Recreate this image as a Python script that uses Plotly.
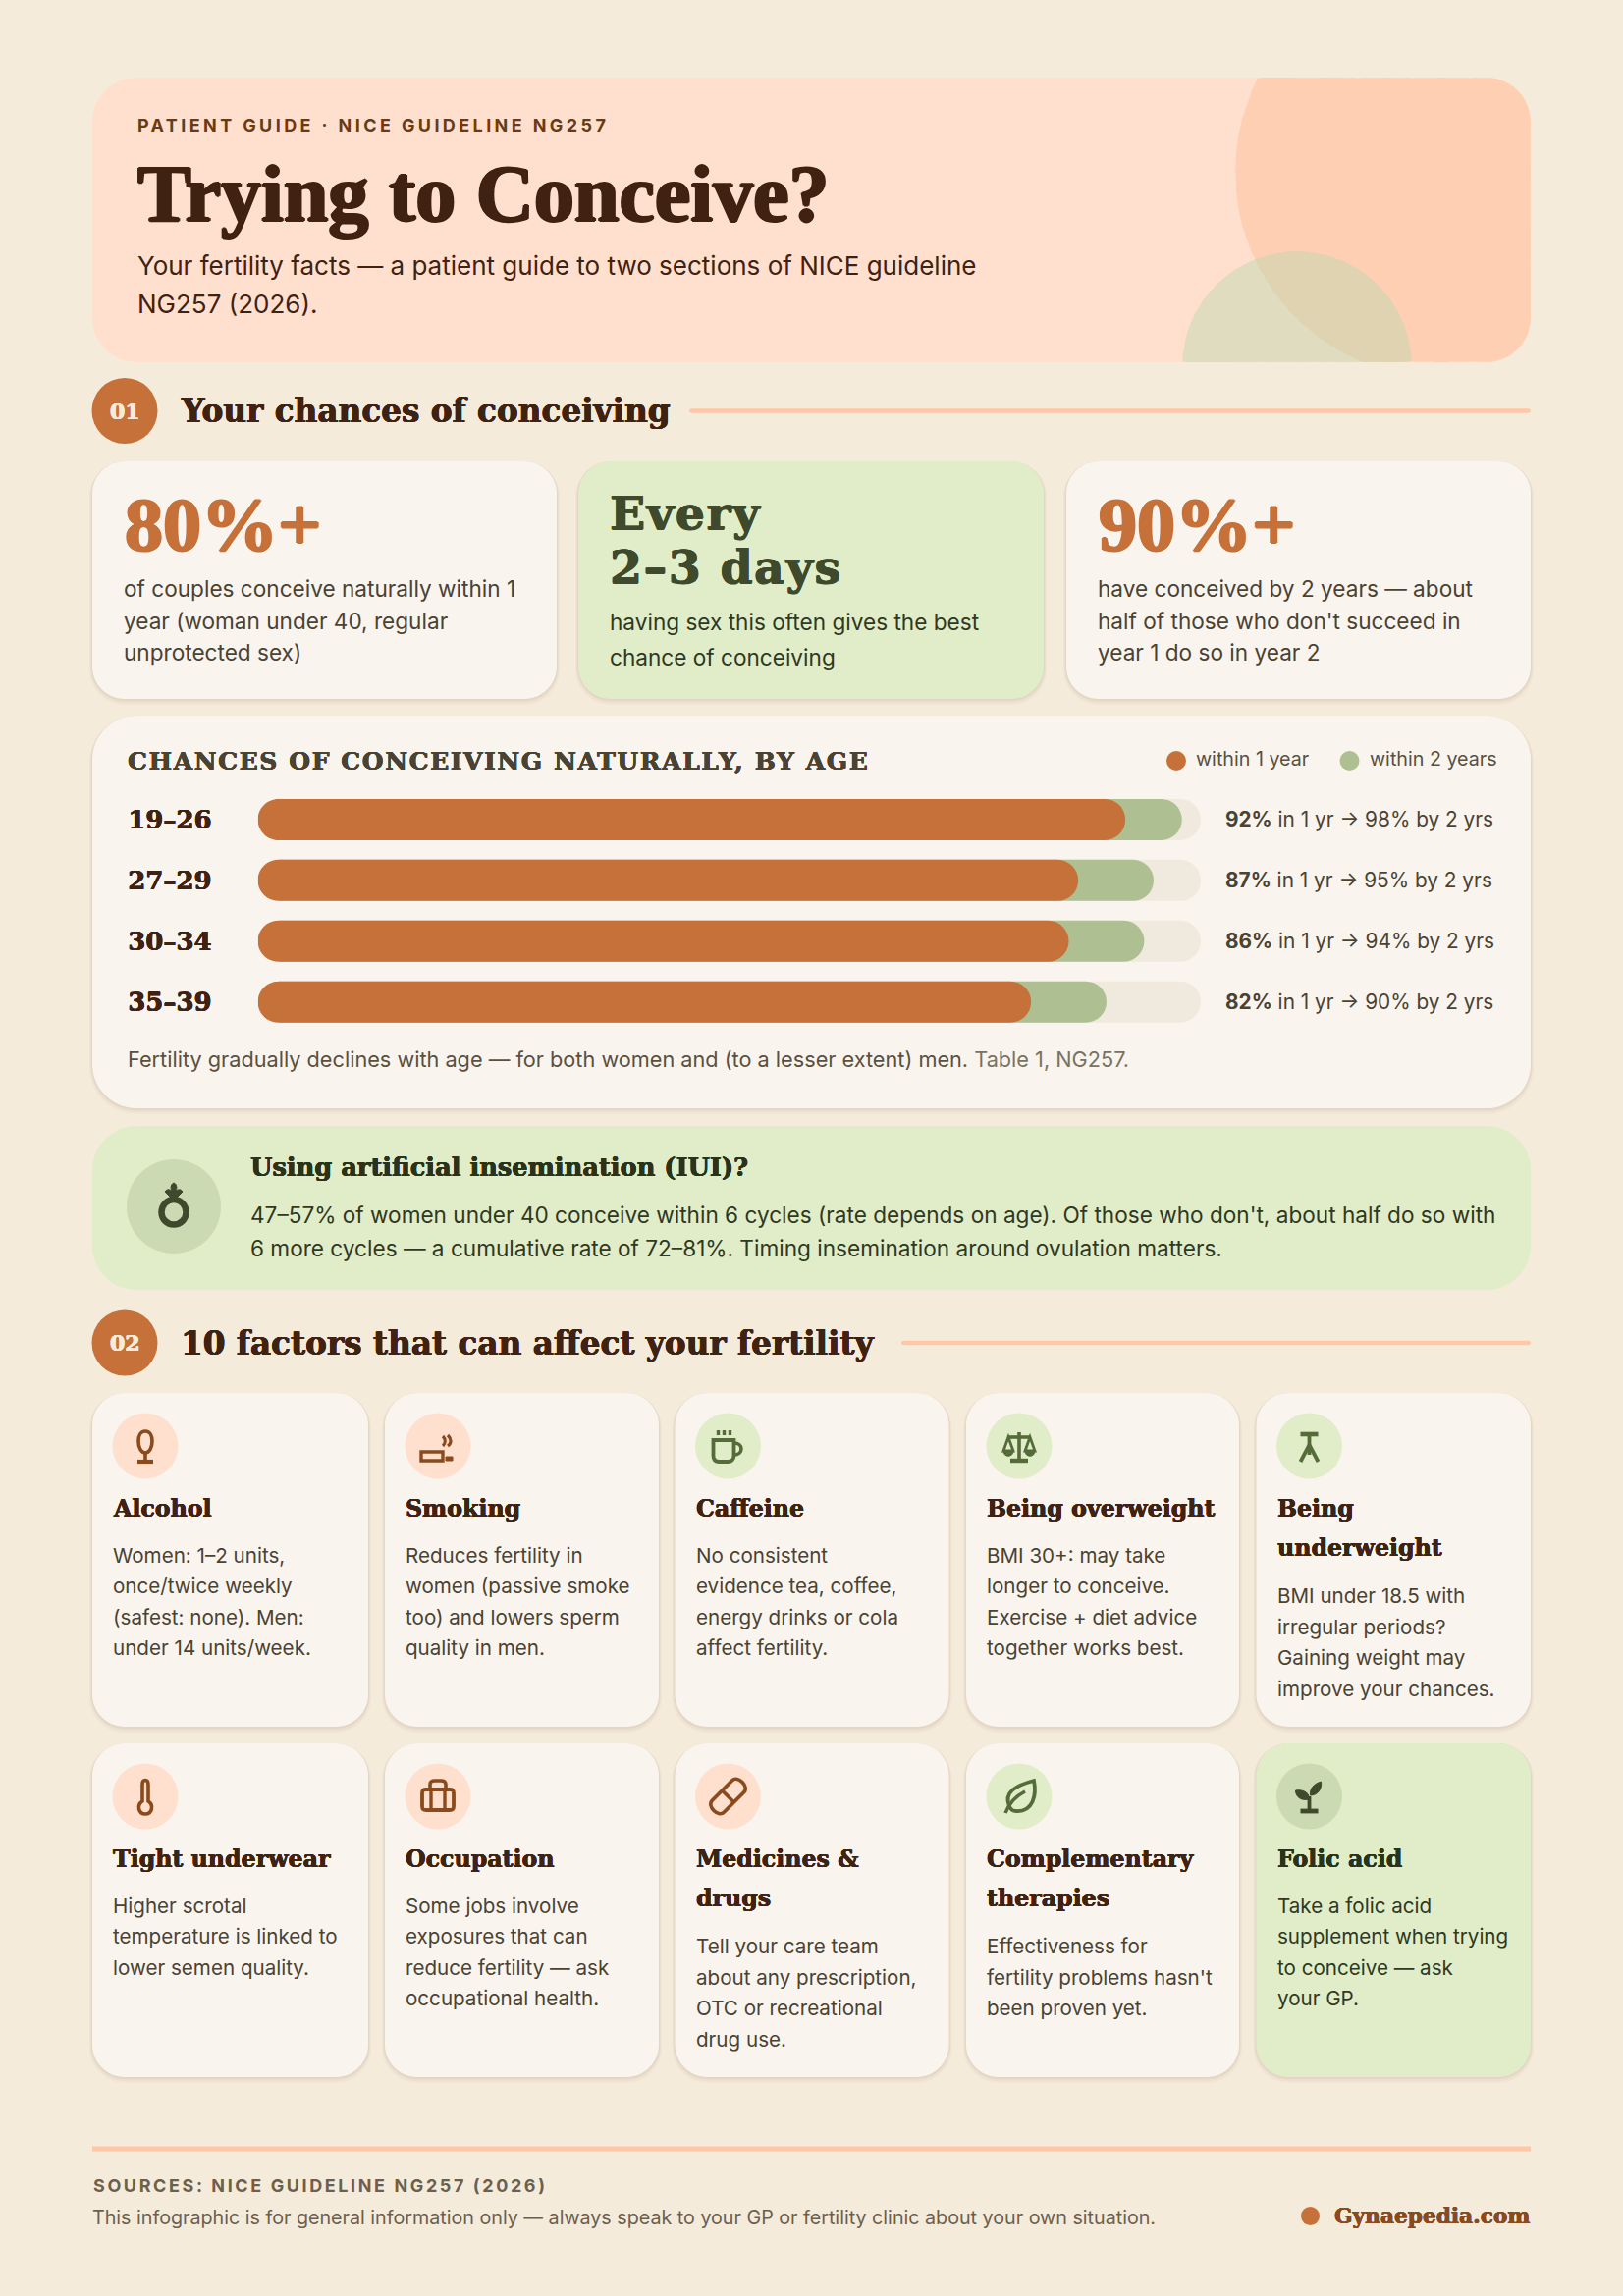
import re

import numpy as np
import plotly.graph_objects as go

# chart data
age_groups = ['19–26', '27–29', '30–34', '35–39']
within_1_year = [92, 87, 86, 82]
within_2_years = [98, 95, 94, 90]
track_full = [100, 100, 100, 100]

# text
eyebrow = 'PATIENT GUIDE · NICE GUIDELINE NG257'
main_title = 'Trying to Conceive?'
subtitle_lines = ['Your fertility facts — a patient guide to two sections of NICE guideline', 'NG257 (2026).']
section_titles = ['Your chances of conceiving', '10 factors that can affect your fertility']
stat_heads = [['80%+'], ['Every', '2–3 days'], ['90%+']]
stat_lines = [
    ['of couples conceive naturally within 1', 'year (woman under 40, regular', 'unprotected sex)'],
    ['having sex this often gives the best', 'chance of conceiving'],
    ['have conceived by 2 years — about', "half of those who don't succeed in", 'year 1 do so in year 2'],
]
chart_title = 'CHANCES OF CONCEIVING NATURALLY, BY AGE'
legend_labels = ['within 1 year', 'within 2 years']
chart_note = 'Fertility gradually declines with age — for both women and (to a lesser extent) men. '
chart_source = 'Table 1, NG257.'
iui_title = 'Using artificial insemination (IUI)?'
iui_lines = [
    "47–57% of women under 40 conceive within 6 cycles (rate depends on age). Of those who don't, about half do so with",
    '6 more cycles — a cumulative rate of 72–81%. Timing insemination around ovulation matters.',
]
factor_titles = [
    ['Alcohol'], ['Smoking'], ['Caffeine'], ['Being overweight'], ['Being', 'underweight'],
    ['Tight underwear'], ['Occupation'], ['Medicines &', 'drugs'], ['Complementary', 'therapies'], ['Folic acid'],
]
factor_lines = [
    ['Women: 1–2 units,', 'once/twice weekly', '(safest: none). Men:', 'under 14 units/week.'],
    ['Reduces fertility in', 'women (passive smoke', 'too) and lowers sperm', 'quality in men.'],
    ['No consistent', 'evidence tea, coffee,', 'energy drinks or cola', 'affect fertility.'],
    ['BMI 30+: may take', 'longer to conceive.', 'Exercise + diet advice', 'together works best.'],
    ['BMI under 18.5 with', 'irregular periods?', 'Gaining weight may', 'improve your chances.'],
    ['Higher scrotal', 'temperature is linked to', 'lower semen quality.'],
    ['Some jobs involve', 'exposures that can', 'reduce fertility — ask', 'occupational health.'],
    ['Tell your care team', 'about any prescription,', 'OTC or recreational', 'drug use.'],
    ['Effectiveness for', "fertility problems hasn't", 'been proven yet.'],
    ['Take a folic acid', 'supplement when trying', 'to conceive — ask', 'your GP.'],
]
footer_head = 'SOURCES: NICE GUIDELINE NG257 (2026)'
footer_text = 'This infographic is for general information only — always speak to your GP or fertility clinic about your own situation.'
brand = 'Gynaepedia.com'

W, H = 1653, 2339
BG = '#F5EBDA'
CARD = '#F9F5EE'
PEACH = '#FFE0CF'
PEACH_DEEP = '#FFCFB3'
RULE = '#FFC7A6'
GREEN = '#E0EDC8'
GREEN_DEEP = '#CBDAB2'
ORANGE = '#C6713A'
SAGE = '#AEC092'
TRACK = '#EFE9DE'
BROWN = '#3F2212'
RUST = '#8A4A1C'
OLIVE = '#3E4A2B'
MOSS = '#556B3A'
INK = '#4A4233'
MUTED = '#6B5F50'
SANS = 'Inter'
SERIF = 'DejaVu Serif'
DISPLAY = 'Liberation Serif'

shapes = []
annotations = []


def round_rect(x0, y0, x1, y1, r):
    k = r * 0.448
    return (f'M {x0 + r} {y0} L {x1 - r} {y0} C {x1 - k} {y0} {x1} {y0 + k} {x1} {y0 + r} '
            f'L {x1} {y1 - r} C {x1} {y1 - k} {x1 - k} {y1} {x1 - r} {y1} '
            f'L {x0 + r} {y1} C {x0 + k} {y1} {x0} {y1 - k} {x0} {y1 - r} '
            f'L {x0} {y0 + r} C {x0} {y0 + k} {x0 + k} {y0} {x0 + r} {y0} Z')


def add_path(path, fill=None, line=None, width=0, layer='below', opacity=1):
    shapes.append(dict(type='path', path=path, xref='x', yref='y', layer=layer, opacity=opacity,
                       fillcolor=fill or 'rgba(0,0,0,0)',
                       line=dict(color=line or 'rgba(0,0,0,0)', width=width)))


def add_circle(cx, cy, r, fill):
    shapes.append(dict(type='circle', xref='x', yref='y', layer='below', x0=cx - r, x1=cx + r,
                       y0=cy - r, y1=cy + r, fillcolor=fill, line=dict(width=0)))


def add_card(x0, y0, x1, y1, r, fill=CARD, shadow=True):
    if shadow:
        for grow, dy, alpha in [(3, 3, 0.025), (2, 2, 0.035), (1, 1, 0.05)]:
            add_path(round_rect(x0 - grow, y0 - grow + dy, x1 + grow, y1 + grow + dy, r + grow),
                     fill=f'rgba(90,60,30,{alpha})')
    add_path(round_rect(x0, y0, x1, y1, r), fill=fill)


def clipped_circle(cx, cy, R, rect, r, seed):
    # circle cut to the rounded card: walk rays out of a point inside both
    x0, y0, x1, y1 = rect
    pts = []
    steps = np.arange(0, 700, 0.5)
    for a in np.linspace(0, 2 * np.pi, 400, endpoint=False):
        xs = seed[0] + steps * np.cos(a)
        ys = seed[1] + steps * np.sin(a)
        dx = np.maximum(np.maximum(x0 + r - xs, xs - (x1 - r)), 0)
        dy = np.maximum(np.maximum(y0 + r - ys, ys - (y1 - r)), 0)
        ok = (dx ** 2 + dy ** 2 <= r ** 2) & ((xs - cx) ** 2 + (ys - cy) ** 2 <= R ** 2)
        i = np.argmin(ok) - 1
        pts.append(f'{xs[i]:.1f} {ys[i]:.1f}')
    return 'M ' + ' L '.join(pts) + ' Z'


def thick(color, w):
    return f'{w}px 0 0 {color}, -{w}px 0 0 {color}, 0 {w}px 0 {color}, 0 -{w}px 0 {color}'


def put(x, y, text, size, color, family=SANS, weight=None, anchor='left', heavy=0, spacing=0):
    font = dict(family=family, size=size, color=color)
    if weight:
        font['weight'] = weight
    if heavy:
        font['shadow'] = thick(color, heavy)
    if spacing:
        text = f'<span style="letter-spacing:{spacing}px">{text}</span>'
    annotations.append(dict(x=x - 1 if anchor == 'left' else x, y=y, xref='x', yref='y', text=text, showarrow=False,
                            xanchor=anchor, yanchor='middle', font=font, borderpad=0))


def place(path, cx, cy):
    # icon paths are written around (0, 0)
    out, n = [], 0
    for tok in path.split():
        if re.match(r'^[A-Z]$', tok):
            out.append(tok)
            n = 0
        else:
            out.append(str(float(tok) + (cx if n % 2 == 0 else cy)))
            n += 1
    return ' '.join(out)


ICONS = {
    'wine': [('M 0 -15 C 5 -15 7 -10 7 -5 C 7 2 4 7 0 7 C -4 7 -7 2 -7 -5 C -7 -10 -5 -15 0 -15 Z', 3.6, False),
             ('M 0 7 L 0 16', 3.6, False), ('M -8 16 L 8 16', 4.2, False)],
    'smoke': [('M -17 6 L 5 6 L 5 15 L -17 15 Z', 3.4, False), ('M 8 11 L 15 11 L 15 15 L 8 15 Z', 1, True),
              ('M 5 -10 C 8 -7 8 -3 5 0', 3.2, False), ('M 10 -11 C 14 -7 14 -3 10 0', 3.2, False)],
    'coffee': [('M -15 -6 L 6 -6 L 6 10 C 6 14 3 16 0 16 L -9 16 C -13 16 -15 14 -15 10 Z', 3.8, False),
               ('M 6 -3 C 16 -3 16 9 6 9', 3.6, False), ('M -10 -16 L -10 -11', 3.4, False),
               ('M -4 -16 L -4 -11', 3.4, False), ('M 2 -16 L 2 -11', 3.4, False)],
    'scale': [('M 0 -14 L 0 15', 3.6, False), ('M -12 -9 L 12 -9', 3.6, False), ('M -9 15 L 9 15', 4.4, False),
              ('M -11 -9 L -16 5 L -6 5 Z', 2.8, False), ('M 11 -9 L 16 5 L 6 5 Z', 2.8, False),
              ('M -16 5 C -16 12 -6 12 -6 5 Z', 1, True), ('M 16 5 C 16 12 6 12 6 5 Z', 1, True)],
    'tripod': [('M -9 -12 L 9 -12', 4.6, False), ('M 0 -12 L 0 9', 3.8, False),
               ('M 0 -1 L -9 16', 3.8, False), ('M 0 -1 L 9 16', 3.8, False)],
    'thermo': [('M -3 -12 C -3 -18 3 -18 3 -12 L 3 5 C 9 9 7 18 0 18 C -7 18 -9 9 -3 5 Z', 3.6, False)],
    'case': [('M -12 -7 L 12 -7 C 15 -7 16 -6 16 -3 L 16 10 C 16 13 15 14 12 14 L -12 14 C -15 14 -16 13 -16 10 '
              'L -16 -3 C -16 -6 -15 -7 -12 -7 Z', 3.8, False),
             ('M -8 -7 L -8 -12 C -8 -16 -5 -16 -3 -16 L 3 -16 C 5 -16 8 -16 8 -12 L 8 -7', 3.6, False),
             ('M -7 -7 L -7 14', 3.4, False), ('M 7 -7 L 7 14', 3.4, False)],
    'pill': [('M -16 4 L 4 -16 C 10 -22 22 -10 16 -4 L -4 16 C -10 22 -22 10 -16 4 Z', 3.8, False),
             ('M -6 -6 L 6 6', 3.8, False)],
    'leaf': [('M -10 10 C -16 -4 -4 -11 15 -16 C 18 -1 14 16 -3 15 C -6 15 -9 13 -10 10 Z', 3.8, False),
             ('M -14 17 C -10 6 -4 0 6 -5', 3.6, False)],
    'sprout': [('M 0 15 L 0 0', 3.8, False), ('M -9 15 L 9 15', 4.8, False),
               ('M 0 3 C -9 5 -14 0 -14 -6 C -8 -7 0 -5 0 3 Z', 1, True),
               ('M 1 -1 C 0 -8 5 -13 12 -15 C 13 -8 9 -1 1 -1 Z', 1, True)],
    'ring': [('M 0 -7 C 7 -7 12.5 -1 12.5 6 C 12.5 13 7 18.5 0 18.5 C -7 18.5 -12.5 13 -12.5 6 '
              'C -12.5 -1 -7 -7 0 -7 Z', 6.5, False),
             ('M 0 -24 C 4 -22 3 -18 2 -15 C 4 -18 7 -18 9 -15 L 0 -6 L -9 -15 C -7 -18 -4 -18 -2 -15 '
              'C -3 -18 -4 -22 0 -24 Z', 1, True)],
}


def add_icon(name, cx, cy, color):
    for path, width, filled in ICONS[name]:
        add_path(place(path, cx, cy), fill=color if filled else None, line=color, width=width)


# header
HEAD = (94, 79, 1559, 369)
add_path(round_rect(*HEAD, 45), fill=PEACH)
add_path(clipped_circle(1468, 175, 210, HEAD, 45, (1468, 175)), fill=PEACH_DEEP)
add_path(clipped_circle(1321, 373, 117, HEAD, 45, (1321, 340)), fill='#C1D8AF', opacity=0.5)
put(140, 127, eyebrow, 18, '#6B3A14', weight=700, spacing=3.4)
put(140, 197, main_title, 82, BROWN, family=DISPLAY, weight=700, heavy=1.3)
for y, line in zip([270, 309], subtitle_lines):
    put(140, y, line, 26, BROWN)


# section headers
def section(cy, num, title, rule_x):
    add_circle(127, cy, 33.5, ORANGE)
    put(127, cy, num, 22, BG, family=SERIF, weight=700, anchor='center', heavy=0.4)
    put(184, cy, title, 32.7, BROWN, family=SERIF, weight=700, heavy=0.4)
    add_path(round_rect(rule_x, cy - 2.3, 1559, cy + 2.3, 2.2), fill=RULE)


section(418.5, '01', section_titles[0], 702)
section(1368, '02', section_titles[1], 918)

# three stat cards
stat_x = [(94, 567), (589, 1063), (1086, 1559)]
stat_fill = [CARD, GREEN, CARD]
stat_head_color = [ORANGE, OLIVE, ORANGE]
stat_text_color = [INK, '#2F3822', INK]
stat_head_y = [[534], [522, 577], [534]]
stat_line_y = [[599, 632, 664], [633, 669], [599, 632, 664]]
for i, (x0, x1) in enumerate(stat_x):
    add_card(x0, 470, x1, 712, 33, fill=stat_fill[i])
    tx = x0 + 32
    for y, line in zip(stat_head_y[i], stat_heads[i]):
        if len(stat_heads[i]) == 1:
            put(tx + 1, y, line, 78, stat_head_color[i], family=DISPLAY, weight=700, heavy=1.2)
        else:
            put(tx, y, line, 47.5, stat_head_color[i], family=SERIF, weight=700, heavy=0.5, spacing=1.5)
    for y, line in zip(stat_line_y[i], stat_lines[i]):
        put(tx, y, line, 22.6, stat_text_color[i])

# chart card
add_card(94, 729, 1559, 1129, 45)
put(130, 775, chart_title, 25, INK, family=SERIF, weight=700, heavy=0.3, spacing=1.6)
add_circle(1198, 775, 10, ORANGE)
add_circle(1374.5, 775, 10, SAGE)
put(1218, 773, legend_labels[0], 19.7, '#5A5040')
put(1395, 773, legend_labels[1], 19.7, '#5A5040')
put(130, 1079, f'{chart_note}<span style="color:#7A7262">{chart_source}</span>', 21.7, '#5A5040')

BAR_L, BAR_R = 262.6, 1223
ROW_TOP, ROW_H = 804, 61.9
BAR_H = 42
for i, (one, two) in enumerate(zip(within_1_year, within_2_years)):
    put(1248, ROW_TOP + ROW_H * (i + 0.5), f'<b>{one}%</b> in 1 yr → {two}% by 2 yrs', 20.8, INK)
    # plotly rounds only the far end of a bar, so the left corners are masked
    top = ROW_TOP + ROW_H * (i + 0.5) - BAR_H / 2
    bot = top + BAR_H
    r = BAR_H / 2
    k = r * 0.448
    add_path(f'M {BAR_L - 1} {top - 1} L {BAR_L + r} {top - 1} L {BAR_L + r} {top} C {BAR_L + k} {top} {BAR_L} {top + k} '
             f'{BAR_L} {top + r} C {BAR_L} {bot - k} {BAR_L + k} {bot} {BAR_L + r} {bot} L {BAR_L + r} {bot + 1} '
             f'L {BAR_L - 1} {bot + 1} Z', fill=CARD, layer='above')

# IUI callout
add_path(round_rect(94, 1147, 1559, 1314, 45), fill=GREEN)
add_circle(177, 1229, 48, GREEN_DEEP)
add_icon('ring', 177, 1229, OLIVE)
put(255, 1189, iui_title, 25.7, '#2A3319', family=SERIF, weight=700, heavy=0.3)
for y, line in zip([1237, 1271], iui_lines):
    put(255, y, line, 22.6, '#2F3822')

# factor cards
card_left = [94, 392, 687.5, 984, 1279.5]
card_right = [375, 671, 966.5, 1262, 1559]
row_tops = [1419, 1776]
icon_names = ['wine', 'smoke', 'coffee', 'scale', 'tripod', 'thermo', 'case', 'pill', 'leaf', 'sprout']
icon_warm = [True, True, False, False, False, True, True, True, False, False]
for i in range(10):
    row, col = divmod(i, 5)
    x0 = card_left[col]
    top = row_tops[row]
    is_folic = i == 9
    add_card(x0, top, card_right[col], top + 340, 33, fill=GREEN if is_folic else CARD)
    warm = icon_warm[i]
    add_circle(x0 + 54, top + 54, 33.5, GREEN_DEEP if is_folic else (PEACH if warm else GREEN))
    add_icon(icon_names[i], x0 + 54, top + 54, OLIVE if is_folic else (RUST if warm else MOSS))
    for j, line in enumerate(factor_titles[i]):
        put(x0 + 21, top + 117.5 + 40.5 * j, line, 23.7, '#2A3319' if is_folic else BROWN, family=SERIF, weight=700,
            heavy=0.3)
    start = top + (165 if len(factor_titles[i]) == 1 else 206.5)
    for j, line in enumerate(factor_lines[i]):
        put(x0 + 21, start + 31.6 * j, line, 20.6, '#2F3822' if is_folic else INK)

# footer
add_path('M 94 2186.5 L 1559 2186.5 L 1559 2191.5 L 94 2191.5 Z', fill=RULE)
put(95, 2226, footer_head, 18, MUTED, weight=700, spacing=2.6)
put(94, 2259, footer_text, 19.7, MUTED)
add_circle(1334.5, 2257.5, 9.5, ORANGE)
put(1559, 2257, brand, 21.7, RUST, family=SERIF, weight=700, anchor='right', heavy=0.3)

# each bar series gets its own axes pair over the same area: plotly works out the
# corner radius per subplot, and sharing one would flatten the shorter bars
layout_axes = {}
fig = go.Figure()
fig.add_trace(go.Scatter(x=[0, W], y=[0, H], mode='markers', marker=dict(opacity=0), hoverinfo='skip'))
series = [(track_full, TRACK, 'track'), (within_2_years, SAGE, legend_labels[1]), (within_1_year, ORANGE, legend_labels[0])]
for n, (values, colour, name) in enumerate(series, start=2):
    fig.add_trace(go.Bar(y=age_groups, x=values, orientation='h', name=name, width=BAR_H / ROW_H,
                         marker=dict(color=colour, cornerradius=BAR_H / 2, line=dict(width=0)),
                         xaxis=f'x{n}', yaxis=f'y{n}', hoverinfo='skip'))
    layout_axes[f'xaxis{n}'] = dict(range=[0, 100], domain=[BAR_L / W, BAR_R / W], visible=False, anchor=f'y{n}')
    layout_axes[f'yaxis{n}'] = dict(domain=[1 - (ROW_TOP + 4 * ROW_H) / H, 1 - ROW_TOP / H], anchor=f'x{n}',
                                    autorange='reversed', showgrid=False, zeroline=False, showline=False, ticks='',
                                    showticklabels=n == 2, ticklabelstandoff=46,
                                    tickfont=dict(family=SERIF, size=26, color=BROWN, weight=700,
                                                  shadow=thick(BROWN, 0.3)))

fig.update_layout(
    width=W, height=H, margin=dict(l=0, r=0, t=0, b=0), showlegend=False,
    paper_bgcolor=BG, plot_bgcolor='rgba(0,0,0,0)',
    xaxis=dict(range=[0, W], domain=[0, 1], visible=False),
    yaxis=dict(range=[H, 0], domain=[0, 1], visible=False),
    shapes=shapes, annotations=annotations, **layout_axes,
)

fig.write_html('out.html', config={'displayModeBar': False},
               post_script="document.body.style.margin='0';document.body.style.background='#F5EBDA';")
